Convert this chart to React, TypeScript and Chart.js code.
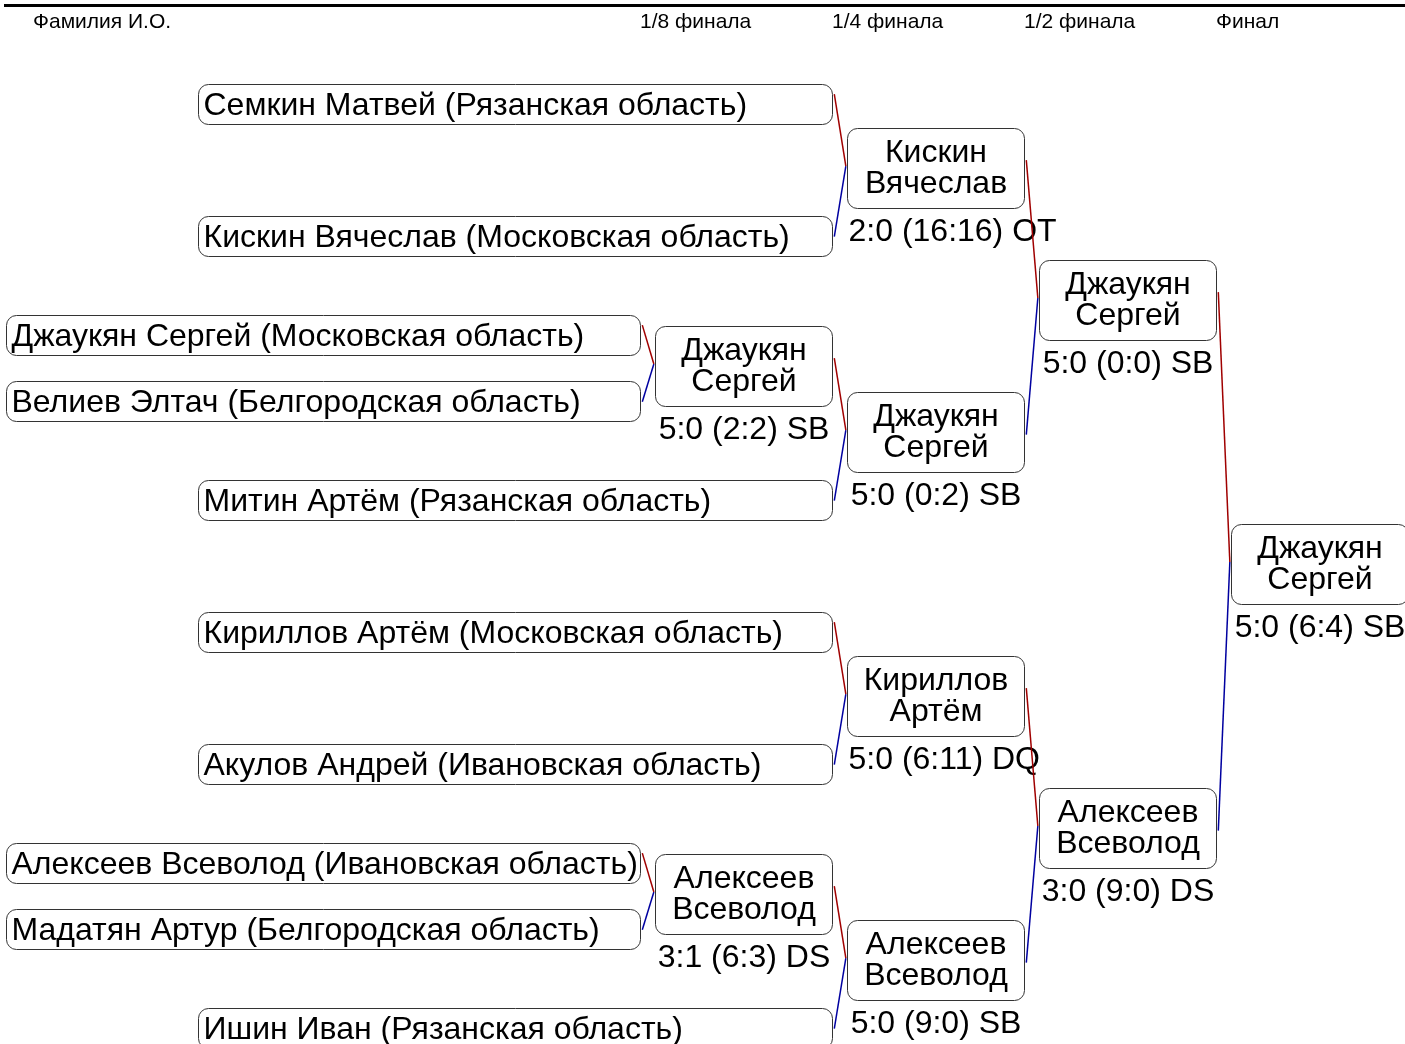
import React, { useEffect, useRef } from "react";
import { Chart, registerables } from "chart.js";

Chart.register(...registerables);

// ---------- DATA ----------
const NAME_HEADER = "Фамилия И.О.";
const ROUND_LABELS = ["1/8 финала", "1/4 финала", "1/2 финала", "Финал"];
const ROUND_COLUMNS = [1, 2, 3, 4];

const ENTRANT_NAMES = [
  "Семкин Матвей (Рязанская область)",
  "Кискин Вячеслав (Московская область)",
  "Джаукян Сергей (Московская область)",
  "Велиев Элтач (Белгородская область)",
  "Митин Артём (Рязанская область)",
  "Кириллов Артём (Московская область)",
  "Акулов Андрей (Ивановская область)",
  "Алексеев Всеволод (Ивановская область)",
  "Мадатян Артур (Белгородская область)",
  "Ишин Иван (Рязанская область)",
];
// draw position (slot) of each entrant
const ENTRANT_SLOTS = [0, 4, 7, 9, 12, 16, 20, 23, 25, 28];
// column of the match each entrant plays first
const ENTRANT_MATCH_COLUMN = [2, 2, 1, 1, 2, 2, 2, 1, 1, 2];

const MATCH_COLUMN = [1, 1, 2, 2, 2, 2, 3, 3, 4];
const MATCH_WINNER = [
  "Джаукян Сергей",
  "Алексеев Всеволод",
  "Кискин Вячеслав",
  "Джаукян Сергей",
  "Кириллов Артём",
  "Алексеев Всеволод",
  "Джаукян Сергей",
  "Алексеев Всеволод",
  "Джаукян Сергей",
];
const MATCH_SCORE = [
  "5:0 (2:2) SB",
  "3:1 (6:3) DS",
  "2:0 (16:16) OT",
  "5:0 (0:2) SB",
  "5:0 (6:11) DQ",
  "5:0 (9:0) SB",
  "5:0 (0:0) SB",
  "3:0 (9:0) DS",
  "5:0 (6:4) SB",
];
// participants: "e" = entrant index, "m" = match index (winner of)
const MATCH_UPPER = ["e2", "e7", "e0", "m0", "e5", "m1", "m2", "m4", "m6"];
const MATCH_LOWER = ["e3", "e8", "e1", "e4", "e6", "e9", "m3", "m5", "m7"];

// ---------- LAYOUT (scale units: x = columns, y = slots) ----------
const X_MIN = -2.4115;
const X_MAX = 4.9063;
const Y_MIN = -3.1515;
const Y_MAX = 28.485;
const BOX_W = 0.9219;
const GAP = 0.0781;
const ENTRANT_W = 3.302;
const ENTRANT_HALF = 0.606;
const WIN_TOP = 1.2727;
const WIN_BOTTOM = 1.1515;

const FONT = '"Liberation Sans", Arial, sans-serif';
const RED = "#a00000";
const BLUE = "#0000a0";

function slotOf(ref: string, cache: Record<string, number>): number {
  if (cache[ref] !== undefined) return cache[ref];
  const idx = parseInt(ref.slice(1), 10);
  let v: number;
  if (ref[0] === "e") v = ENTRANT_SLOTS[idx];
  else v = (slotOf(MATCH_UPPER[idx], cache) + slotOf(MATCH_LOWER[idx], cache)) / 2;
  cache[ref] = v;
  return v;
}

function rightOf(ref: string): number {
  const idx = parseInt(ref.slice(1), 10);
  if (ref[0] === "e") return ENTRANT_MATCH_COLUMN[idx] - GAP;
  return MATCH_COLUMN[idx] + BOX_W;
}

function roundRectPath(ctx: CanvasRenderingContext2D, x: number, y: number, w: number, h: number, r: number) {
  ctx.beginPath();
  ctx.moveTo(x + r, y);
  ctx.lineTo(x + w - r, y);
  ctx.arcTo(x + w, y, x + w, y + r, r);
  ctx.lineTo(x + w, y + h - r);
  ctx.arcTo(x + w, y + h, x + w - r, y + h, r);
  ctx.lineTo(x + r, y + h);
  ctx.arcTo(x, y + h, x, y + h - r, r);
  ctx.lineTo(x, y + r);
  ctx.arcTo(x, y, x + r, y, r);
  ctx.closePath();
}

export default function App() {
  const ref = useRef<HTMLCanvasElement | null>(null);

  useEffect(() => {
    if (!ref.current) return;
    const cache: Record<string, number> = {};

    // connector datasets
    const datasets: any[] = [];
    MATCH_COLUMN.forEach((col, i) => {
      const py = slotOf("m" + i, cache);
      const parentPt = { x: col - 0.006, y: py - 0.12 };
      const up = MATCH_UPPER[i];
      const lo = MATCH_LOWER[i];
      datasets.push({
        data: [{ x: rightOf(up) + 0.012, y: slotOf(up, cache) - 0.3 }, parentPt],
        borderColor: RED,
      });
      datasets.push({
        data: [parentPt, { x: rightOf(lo) + 0.012, y: slotOf(lo, cache) + 0.02 }],
        borderColor: BLUE,
      });
    });
    datasets.forEach((d) => {
      d.showLine = true;
      d.pointRadius = 0;
      d.borderWidth = 1.5;
      d.fill = false;
    });

    const bracketPlugin = {
      id: "bracket",
      beforeDatasetsDraw(chart: any) {
        const ctx: CanvasRenderingContext2D = chart.ctx;
        const xs = chart.scales.x;
        const ys = chart.scales.y;
        const X = (v: number) => xs.getPixelForValue(v);
        const Y = (v: number) => ys.getPixelForValue(v);
        ctx.save();

        // top rule
        ctx.strokeStyle = "#000";
        ctx.lineWidth = 3;
        ctx.beginPath();
        ctx.moveTo(4, 5.5);
        ctx.lineTo(chart.width, 5.5);
        ctx.stroke();

        // headers
        ctx.fillStyle = "#000";
        ctx.textBaseline = "alphabetic";
        ctx.textAlign = "left";
        ctx.font = `21px ${FONT}`;
        ctx.fillText(NAME_HEADER, 33, 28);
        ROUND_LABELS.forEach((lab, i) => {
          ctx.fillText(lab, X(ROUND_COLUMNS[i] - GAP), 28);
        });

        ctx.lineWidth = 1;
        ctx.strokeStyle = "#333";

        // entrant boxes
        ctx.font = `32px ${FONT}`;
        ENTRANT_NAMES.forEach((name, i) => {
          const right = ENTRANT_MATCH_COLUMN[i] - GAP;
          const left = right - ENTRANT_W;
          const s = ENTRANT_SLOTS[i];
          const x0 = Math.round(X(left)) + 0.5;
          const x1 = Math.round(X(right)) + 0.5;
          const y0 = Math.round(Y(s - ENTRANT_HALF)) + 0.5;
          const y1 = Math.round(Y(s + ENTRANT_HALF)) + 0.5;
          ctx.fillStyle = "#fff";
          roundRectPath(ctx, x0, y0, x1 - x0, y1 - y0, 10);
          ctx.fill();
          ctx.stroke();
          ctx.fillStyle = "#000";
          ctx.textAlign = "left";
          ctx.fillText(name, x0 + 5, Y(s) + 11);
        });

        // match winner boxes
        MATCH_COLUMN.forEach((col, i) => {
          const s = slotOf("m" + i, cache);
          const x0 = Math.round(X(col)) + 0.5;
          const x1 = Math.round(X(col + BOX_W)) + 0.5;
          const y0 = Math.round(Y(s - WIN_TOP)) + 0.5;
          const y1 = Math.round(Y(s + WIN_BOTTOM)) + 0.5;
          ctx.fillStyle = "#fff";
          roundRectPath(ctx, x0, y0, x1 - x0, y1 - y0, 10);
          ctx.fill();
          ctx.stroke();
          ctx.fillStyle = "#000";
          ctx.textAlign = "center";
          const cx = (x0 + x1) / 2;
          const parts = MATCH_WINNER[i].split(" ");
          ctx.fillText(parts[0], cx, y0 + 33);
          ctx.fillText(parts.slice(1).join(" "), cx, y0 + 64);
          const score = MATCH_SCORE[i];
          const w = ctx.measureText(score).width;
          const sx = Math.max(x0 + 1, cx - w / 2);
          ctx.textAlign = "left";
          ctx.fillText(score, sx, y1 + 32);
        });

        ctx.restore();
      },
    };

    const chart = new Chart(ref.current, {
      type: "scatter",
      data: { datasets },
      options: {
        responsive: false,
        maintainAspectRatio: false,
        animation: false,
        devicePixelRatio: 1,
        events: [],
        layout: { padding: 0 },
        plugins: { legend: { display: false }, tooltip: { enabled: false }, title: { display: false } },
        scales: {
          x: { type: "linear", min: X_MIN, max: X_MAX, display: false },
          y: { type: "linear", min: Y_MIN, max: Y_MAX, reverse: true, display: false },
        },
      },
      plugins: [bracketPlugin],
    });
    return () => chart.destroy();
  }, []);

  return (
    <div style={{ position: "fixed", left: 0, top: 0, width: 1405, height: 1044, background: "#fff", overflow: "hidden" }}>
      <canvas ref={ref} width={1405} height={1044} style={{ display: "block", width: 1405, height: 1044 }} />
    </div>
  );
}
